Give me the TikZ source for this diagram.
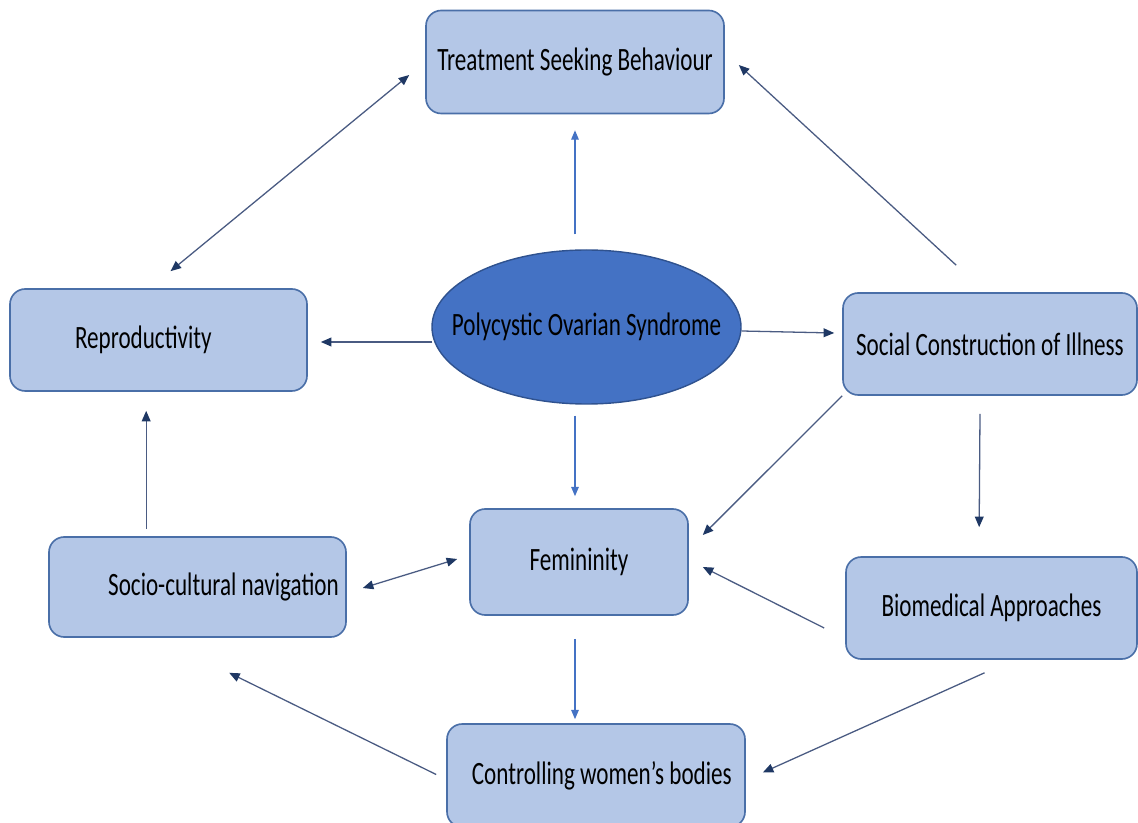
\documentclass[tikz,border=0pt]{standalone}
\usepackage{fontspec}
\setmainfont{Carlito}[FakeStretch=0.71]
\usetikzlibrary{arrows.meta, shapes.geometric, calc, positioning}

\definecolor{boxfill}{HTML}{B4C7E7}
\definecolor{boxline}{HTML}{4A6FA8}
\definecolor{ovalfill}{HTML}{4472C4}
\definecolor{ovalline}{HTML}{2F528F}
\definecolor{linkline}{HTML}{4A5B82}
\definecolor{navy}{HTML}{1F3864}

\tikzset{
  topic/.style={draw=boxline, fill=boxfill, line width=1.4pt, rounded corners=13pt,
    minimum height=102*0.03cm, font=\fontsize{27.8}{30}\selectfont},
  link/.style={draw=linkline, line width=1.1pt, -{Triangle[length=9pt,width=7.5pt,color=navy]}},
  twolink/.style={link, {Triangle[length=9pt,width=7.5pt,color=navy]}-{Triangle[length=9pt,width=7.5pt,color=navy]}},
  downlink/.style={draw=ovalfill, line width=1.1pt, -{Triangle[length=8pt,width=6.5pt]}}
}

\begin{document}
\begin{tikzpicture}[x=0.03cm, y=-0.03cm]
  \useasboundingbox (0,0) rectangle (1138,823);

  % boxes
  \node[topic, minimum width=298*0.03cm, minimum height=103*0.03cm] (treat) at (575,62) {Treatment Seeking Behaviour};
  \node[topic, minimum width=297*0.03cm, text width=167*0.03cm, inner xsep=65*0.03cm, align=left] (repro) at (158.5,340) {Reproductivity};
  \node[topic, minimum width=294*0.03cm] (social) at (990,344) {Social Construction of Illness};
  \node[topic, minimum width=218*0.03cm, minimum height=106*0.03cm] (femin) at (579,562) {Femininity};
  \node[topic, minimum width=297*0.03cm, minimum height=100*0.03cm] (socio) at (197.5,587) {\hspace*{1.56cm}Socio-cultural navigation};
  \node[topic, minimum width=291*0.03cm] (bio) at (991.5,608) {Biomedical Approaches};
  \node[topic, minimum width=298*0.03cm, minimum height=103*0.03cm] (ctrl) at (596,775.5) {\hspace*{10pt}Controlling women’s bodies};

  % centre
  \node[ellipse, draw=ovalline, fill=ovalfill, line width=1.2pt, inner sep=0pt,
    minimum width=309*0.03cm, minimum height=154*0.03cm,
    font=\fontsize{27.8}{30}\selectfont] (pcos) at (586.5,327) {\makebox[0pt]{Polycystic Ovarian Syndrome}};

  % connector ends
  \coordinate (treat-sw) at ($(treat.west)+(-16,13)$);
  \coordinate (treat-se) at ($(treat.east)+(14,3)$);
  \coordinate (treat-s)  at ($(treat.south)+(0,16)$);
  \coordinate (repro-ne) at ($(repro.north)+(12,-17)$);
  \coordinate (repro-e)  at ($(repro.east)+(13,2)$);
  \coordinate (repro-s)  at ($(repro.south west)+(137,19)$);
  \coordinate (pcos-n)   at ($(pcos.north)+(-11.5,-15)$);
  \coordinate (pcos-s)   at ($(pcos.south)+(-11.5,11)$);
  \coordinate (pcos-w)   at ($(pcos.west)+(1,15)$);
  \coordinate (pcos-e)   at ($(pcos.east)+(0,4)$);
  \coordinate (social-n) at ($(social.north west)+(114,-27)$);
  \coordinate (social-w) at ($(social.west)+(-8,-11)$);
  \coordinate (social-s) at ($(social.south)+(-10,18)$);
  \coordinate (femin-ne) at ($(femin.east)+(14,-27)$);
  \coordinate (femin-e)  at ($(femin.east)+(14,5)$);
  \coordinate (femin-w)  at ($(femin.west)+(-12,-3)$);
  \coordinate (femin-n)  at ($(femin.north)+(-4,-12)$);
  \coordinate (femin-s)  at ($(femin.south)+(-4,23)$);
  \coordinate (socio-e)  at ($(socio.east)+(16,1)$);
  \coordinate (socio-n)  at ($(socio.north west)+(98,-7)$);
  \coordinate (socio-se) at ($(socio.south west)+(181,35)$);
  \coordinate (bio-n)    at ($(bio.north west)+(134,-29)$);
  \coordinate (bio-w)    at ($(bio.west)+(-21,20)$);
  \coordinate (bio-s)    at ($(bio.south)+(-7,13)$);
  \coordinate (ctrl-n)   at ($(ctrl.north)+(-21,-4)$);
  \coordinate (ctrl-w)   at ($(ctrl.west)+(-10,-1)$);
  \coordinate (ctrl-e)   at ($(ctrl.east)+(17,-3)$);

  % links
  \draw[twolink] (repro-ne) -- (treat-sw);
  \draw[downlink] (pcos-n) -- (treat-s);
  \draw[link] (social-n) -- (treat-se);
  \draw[link] (pcos-w) -- (repro-e);
  \draw[link] (pcos-e) -- (social-w);
  \draw[downlink] (pcos-s) -- (femin-n);
  \draw[link] (social.south west) -- (femin-ne);
  \draw[link] (social-s) -- (bio-n);
  \draw[link] (bio-w) -- (femin-e);
  \draw[twolink] (socio-e) -- (femin-w);
  \draw[link] (socio-n) -- (repro-s);
  \draw[downlink] (femin-s) -- (ctrl-n);
  \draw[link] (bio-s) -- (ctrl-e);
  \draw[link] (ctrl-w) -- (socio-se);
\end{tikzpicture}
\end{document}
